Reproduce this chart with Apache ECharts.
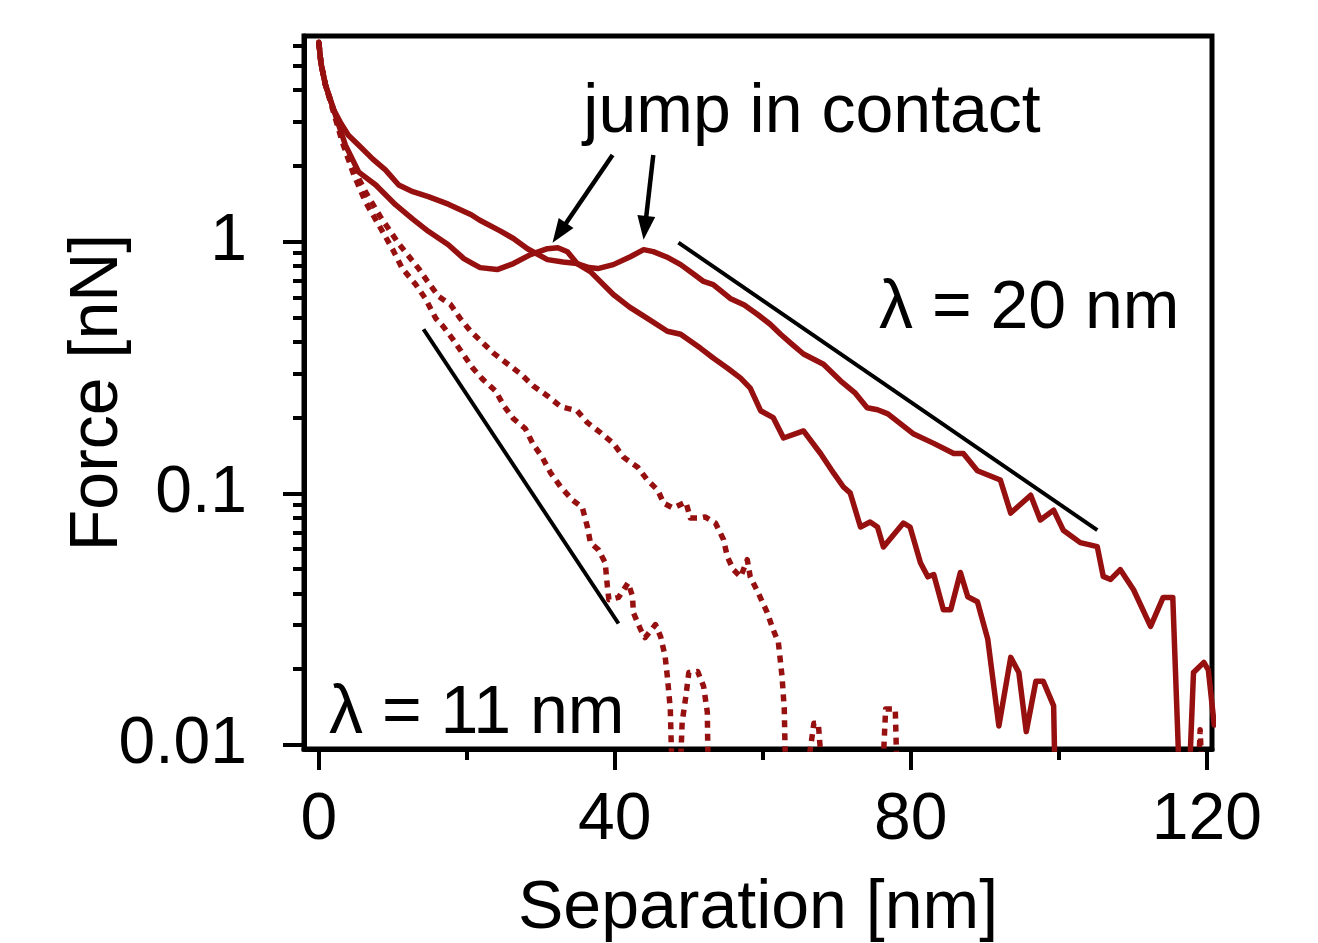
<!DOCTYPE html>
<html>
<head>
<meta charset="utf-8">
<script src="https://cdn.jsdelivr.net/npm/echarts@6/dist/echarts.min.js"></script>
<style>
html,body{margin:0;padding:0;background:#fff;}
#chart{width:1318px;height:943px;}
</style>
</head>
<body>
<div id="chart"></div>
<script>
// ---------- data ----------
const xRange = [-2, 120.7];
const yRange = [0.00964, 6.57];
const xTickValues = [0, 40, 80, 120];
const xTickLabels = ['0', '40', '80', '120'];
const xMinorTicks = [20, 60, 100];
const yTickValues = [0.01, 0.1, 1];
const yTickLabels = ['0.01', '0.1', '1'];
const yMinorTicks = [0.02,0.03,0.04,0.05,0.06,0.07,0.08,0.09,0.2,0.3,0.4,0.5,0.6,0.7,0.8,0.9,2,3,4,5,6];

// solid curve with jump in contact at ~44 nm (lambda = 20 nm branch)
const curveA = [[0,6.2],[0.3,5.1],[0.9,4.2],[2.0,3.35],[3.0,2.95],[4.0,2.65],[5.4,2.42],[7.3,2.13],[9.0,1.93],[10.8,1.68],[12.7,1.58],[14.8,1.51],[17.5,1.41],[20.6,1.28],[21.7,1.22],[24.5,1.105],[26.3,1.03],[28.2,0.938],[30.9,0.849],[33.0,0.83],[34.9,0.819],[36.5,0.79],[37.7,0.782],[39.8,0.811],[42.1,0.872],[43.9,0.930],[45.2,0.913],[47.0,0.87],[48.9,0.811],[50.5,0.75],[52.0,0.695],[53.3,0.676],[55.6,0.595],[57.5,0.56],[59.3,0.514],[61.0,0.47],[62.4,0.429],[64.0,0.39],[65.5,0.358],[68.2,0.326],[70.5,0.280],[72.5,0.25],[74.1,0.219],[75.5,0.215],[76.9,0.207],[78.5,0.19],[80.4,0.172],[83.1,0.158],[85.8,0.144],[87.1,0.144],[89.0,0.123],[92.1,0.113],[93.5,0.0835],[96.2,0.0983],[97.5,0.0784],[99.3,0.0858],[100.6,0.0714],[102.9,0.0637],[105.2,0.0614],[106.0,0.0468],[107.0,0.0455],[108.3,0.0498],[110.1,0.0414],[112.4,0.0296],[114.1,0.0386],[115.4,0.0386],[116.5,0.005],[117.4,0.005],[118.2,0.0194],[119.6,0.0213],[120.2,0.0199],[121.0,0.012]];
// solid curve with jump in contact at ~31 nm
const curveB = [[0,6.2],[0.3,5.1],[0.9,4.2],[2.0,3.35],[3.6,2.42],[5.4,1.89],[7.7,1.68],[10.4,1.40],[12.7,1.23],[14.8,1.10],[17.5,0.973],[19.6,0.857],[20.8,0.819],[21.8,0.789],[24.1,0.775],[26.3,0.819],[28.6,0.889],[30.9,0.938],[32.3,0.947],[33.6,0.913],[34.9,0.819],[36.7,0.761],[39.8,0.617],[42.0,0.55],[44.4,0.496],[47.1,0.441],[48.9,0.429],[51.6,0.377],[53.3,0.345],[55.2,0.315],[57.0,0.287],[58.3,0.262],[59.7,0.213],[61.4,0.200],[62.8,0.166],[65.5,0.177],[67.8,0.144],[69.6,0.120],[70.9,0.106],[71.8,0.1005],[73.2,0.0735],[74.5,0.0769],[75.5,0.0735],[76.3,0.0612],[79.0,0.0762],[79.9,0.0735],[81.3,0.0530],[82.3,0.0466],[83.1,0.0476],[84.4,0.0345],[85.4,0.0345],[86.7,0.0485],[87.7,0.0388],[89.0,0.0371],[90.4,0.0263],[91.9,0.0119],[93.5,0.0223],[94.6,0.0194],[95.6,0.0113],[96.9,0.0179],[97.9,0.0179],[99.3,0.0143],[99.6,0.005]];
// dotted curve, steep (lambda = 11 nm branch)
const curveC = [[0,6.2],[0.3,5.1],[0.9,4.2],[2.0,3.26],[3.2,2.48],[4.6,1.89],[6.3,1.44],[8.6,1.10],[10.0,0.93],[11.3,0.782],[13.1,0.676],[14.4,0.595],[15.8,0.496],[16.8,0.461],[18.1,0.410],[19.4,0.361],[20.8,0.315],[22.1,0.285],[23.9,0.255],[25.0,0.223],[26.3,0.198],[27.9,0.181],[28.9,0.158],[30.2,0.139],[31.3,0.121],[32.7,0.106],[34.3,0.094],[35.6,0.088],[36.3,0.0735],[36.7,0.0637],[37.8,0.0596],[38.7,0.0530],[39.0,0.0425],[39.2,0.0378],[40.5,0.0386],[41.8,0.0441],[42.4,0.0389],[42.5,0.0336],[43.5,0.0287],[44.1,0.0267],[45.5,0.0301],[46.2,0.0269],[46.8,0.0225],[47.1,0.0187],[47.5,0.0139],[47.9,0.005],[48.6,0.005],[49.1,0.0123],[49.6,0.0156],[50.0,0.0194],[51.2,0.0196],[52.0,0.0171],[52.5,0.0135],[52.7,0.005]];
// dotted curve, second
const curveD = [[0,6.2],[0.3,5.1],[0.9,4.2],[2.0,3.35],[3.2,2.53],[4.6,1.98],[6.3,1.58],[8.3,1.26],[10.8,0.982],[13.5,0.782],[14.7,0.695],[16.2,0.606],[17.8,0.563],[19.1,0.496],[20.5,0.441],[23.6,0.361],[27.3,0.298],[29.0,0.267],[30.9,0.244],[32.7,0.221],[34.9,0.213],[36.3,0.191],[38.1,0.174],[39.8,0.158],[41.2,0.139],[43.1,0.127],[44.4,0.113],[45.8,0.103],[46.6,0.0914],[47.9,0.0874],[49.6,0.0923],[50.2,0.0799],[51.6,0.0799],[52.2,0.0806],[53.6,0.0762],[54.7,0.0654],[55.2,0.0561],[56.0,0.0498],[57.0,0.0466],[57.9,0.0545],[58.3,0.0466],[59.3,0.0407],[60.6,0.0336],[61.4,0.0287],[62.1,0.0256],[62.6,0.0187],[62.9,0.0139],[63.2,0.005],[65.1,0.005],[66.9,0.0122],[67.5,0.0122],[68.5,0.005],[75.9,0.005],[76.6,0.0139],[77.9,0.0139],[78.3,0.005],[118.6,0.005],[119.1,0.0115],[119.6,0.005]];
// guide lines (exponential decays)
const fit20 = [[48.6,0.991],[105.2,0.0714]];
const fit11 = [[14.15,0.449],[40.5,0.0304]];
// arrows: [tail, head centre]
const arrow1 = [[39.7,2.21],[32.5,1.084]];
const arrow2 = [[45.2,2.21],[44.07,1.135]];

// ---------- chart ----------
const RED = '#961010';
const FONT = '"Liberation Sans", Arial, sans-serif';
const chart = echarts.init(document.getElementById('chart'), null, {renderer: 'canvas'});
const lg = v => Math.log10(v);
const findLabel = (vals, labels, v, tr) => {
  for (let i = 0; i < vals.length; i++) if (Math.abs(tr(vals[i]) - v) < 1e-6) return labels[i];
  return '';
};

const solid = {type: 'solid', width: 5.5, color: RED, cap: 'round', join: 'round'};
const dotted = {type: [7, 6], width: 5.5, color: RED, cap: 'butt', join: 'round'};
const tickStyle = {color: '#000', width: 4};

chart.setOption({
  animation: false,
  backgroundColor: '#fff',
  grid: {left: 304, right: 106, top: 36, bottom: 194, containLabel: false, outerBoundsMode: 'none',
         show: true, borderColor: '#000', borderWidth: 5, backgroundColor: 'transparent'},
  xAxis: [
    {type: 'value', min: xRange[0], max: xRange[1], position: 'bottom', offset: 0,
     axisLine: {show: true, onZero: false, lineStyle: {color: '#000', width: 5}},
     axisTick: {show: true, inside: false, length: 21, customValues: xTickValues, lineStyle: tickStyle},
     axisLabel: {show: true, customValues: xTickValues, margin: 39, color: '#000', fontSize: 66, fontFamily: FONT,
                 formatter: v => findLabel(xTickValues, xTickLabels, v, t => t)},
     splitLine: {show: false},
     name: 'Separation [nm]', nameLocation: 'middle', nameGap: 126,
     nameTextStyle: {color: '#000', fontSize: 68, fontFamily: FONT}},
    {type: 'value', min: xRange[0], max: xRange[1], position: 'bottom', offset: 0,
     axisLine: {show: false, onZero: false},
     axisTick: {show: true, inside: false, length: 11, customValues: xMinorTicks, lineStyle: tickStyle},
     axisLabel: {show: false}, splitLine: {show: false}}
  ],
  yAxis: [
    {type: 'log', logBase: 10, min: yRange[0], max: yRange[1], position: 'left', offset: 0,
     axisLine: {show: true, onZero: false, lineStyle: {color: '#000', width: 5}},
     axisTick: {show: false}, axisLabel: {show: false}, splitLine: {show: false}, minorTick: {show: false},
     name: 'Force [nN]', nameLocation: 'middle', nameGap: 172,
     nameTextStyle: {color: '#000', fontSize: 68, fontFamily: FONT}},
    {type: 'value', min: lg(yRange[0]), max: lg(yRange[1]), position: 'left', offset: 0,
     axisLine: {show: false, onZero: false},
     axisTick: {show: true, inside: false, length: 21, customValues: yTickValues.map(lg), lineStyle: tickStyle},
     axisLabel: {show: true, customValues: yTickValues.map(lg), margin: 57, color: '#000', fontSize: 66, fontFamily: FONT,
                 formatter: v => findLabel(yTickValues, yTickLabels, v, lg)},
     splitLine: {show: false}},
    {type: 'value', min: lg(yRange[0]), max: lg(yRange[1]), position: 'left', offset: 0,
     axisLine: {show: false, onZero: false},
     axisTick: {show: true, inside: false, length: 11, customValues: yMinorTicks.map(lg), lineStyle: tickStyle},
     axisLabel: {show: false}, splitLine: {show: false}}
  ],
  series: [
    {name: 'dotted 1', type: 'line', data: curveC, xAxisIndex: 0, yAxisIndex: 0, symbol: 'none', lineStyle: dotted, clip: true, z: 2},
    {name: 'dotted 2', type: 'line', data: curveD, xAxisIndex: 0, yAxisIndex: 0, symbol: 'none', lineStyle: dotted, clip: true, z: 2},
    {name: 'solid 1', type: 'line', data: curveB, xAxisIndex: 0, yAxisIndex: 0, symbol: 'none', lineStyle: solid, clip: true, z: 3},
    {name: 'solid 2', type: 'line', data: curveA, xAxisIndex: 0, yAxisIndex: 0, symbol: 'none', lineStyle: solid, clip: true, z: 3},
    {name: 'fit 11', type: 'line', data: fit11, xAxisIndex: 0, yAxisIndex: 0, symbol: 'none',
     lineStyle: {color: '#000', width: 4}, z: 4},
    {name: 'fit 20', type: 'line', data: fit20, xAxisIndex: 0, yAxisIndex: 0, symbol: 'none',
     lineStyle: {color: '#000', width: 4}, z: 4,
     markLine: {silent: true, symbol: ['none', 'triangle'], symbolSize: [18, 24], animation: false,
                lineStyle: {color: '#000', width: 4.5, type: 'solid'}, label: {show: false},
                emphasis: {disabled: true},
                data: [[{coord: arrow1[0]}, {coord: arrow1[1]}], [{coord: arrow2[0]}, {coord: arrow2[1]}]]}}
  ],
  graphic: [
    {type: 'text', x: 812, y: 113, silent: true,
     style: {text: 'jump in contact', font: '68px ' + FONT, fill: '#000', align: 'center', verticalAlign: 'middle'}},
    {type: 'text', x: 879, y: 309, silent: true,
     style: {text: 'λ = 20 nm', font: '68px ' + FONT, fill: '#000', align: 'left', verticalAlign: 'middle'}},
    {type: 'text', x: 329, y: 714, silent: true,
     style: {text: 'λ = 11 nm', font: '68px ' + FONT, fill: '#000', align: 'left', verticalAlign: 'middle'}}
  ]
});
</script>
</body>
</html>
